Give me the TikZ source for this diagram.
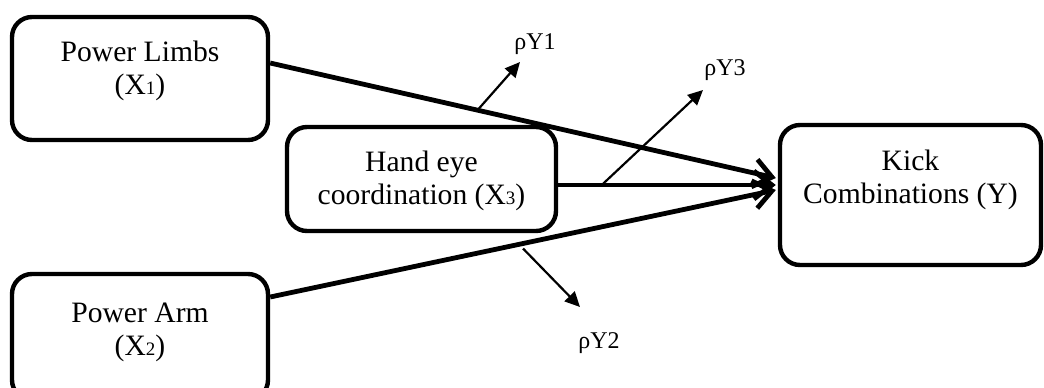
\documentclass[tikz,border=0pt]{standalone}
\usepackage{fontspec}
\setmainfont{Liberation Serif}
\usetikzlibrary{arrows.meta,calc}
\newcommand{\sdig}[1]{{\fontsize{9.5}{10}\selectfont #1}}
\tikzset{
  box/.style={draw, line width=2.2pt, rounded corners=10pt, inner sep=0pt},
  txt/.style={align=center, font=\fontsize{14.8}{16.5}\selectfont, inner sep=0pt},
  lab/.style={font=\fontsize{12}{13}\selectfont, inner sep=0pt},
  mainarrow/.style={line width=2.4pt, -{Straight Barb[length=9pt,width=14pt,line width=2.4pt]}},
  thinarrow/.style={line width=1.1pt, -{Triangle[length=7.5pt,width=7pt]}}
}
\begin{document}
\begin{tikzpicture}[x=0.5pt,y=-0.5pt]
\useasboundingbox (0,0) rectangle (1044,387);
% boxes
\node[box, minimum width=128pt, minimum height=61.5pt] (b1) at (140,78.5) {};
\node[box, minimum width=128pt, minimum height=63pt] (b2) at (140,337) {};
\node[box, minimum width=134.5pt, minimum height=52pt] (b3) at (421.5,179) {};
\node[box, minimum width=130.5pt, minimum height=70pt] (b4) at (910.5,195) {};
% texts
\node[txt] (t1) at (140,71) {Power Limbs\\(X\sdig{1})};
\node[txt] (t2) at (140,332) {Power Arm\\(X\sdig{2})};
\node[txt] (t3) at (421.5,181) {Hand eye\\coordination (X\sdig{3})};
\node[txt] (t4) at (910.5,180) {Kick\\Combinations (Y)};
% main arrows
\draw[mainarrow] ($(b1.east)+(0,-15.5)$) -- coordinate[pos=0.41] (s1) ($(b4.west)+(-2,-17)$);
\draw[mainarrow] ($(b2.east)+(0,-40)$) -- coordinate[pos=0.5] (s2) ($(b4.west)+(-2,-5)$);
\draw[mainarrow] ($(b3.east)+(0,6)$) -- coordinate[pos=0.2] (s3) ($(b4.west)+(-2,-10)$);
% error arrows
\coordinate (e1) at (520,62);
\coordinate (e2) at (580,307);
\coordinate (e3) at (703,90);
\draw[thinarrow] (s1) -- (e1);
\draw[thinarrow] ($(s2)+(0,5)$) -- (e2);
\draw[thinarrow] (s3) -- (e3);
% labels
\node[lab] (l1) at (535,44) {ρY1};
\node[lab] (l2) at (599,343) {ρY2};
\node[lab] (l3) at (725,70) {ρY3};
\end{tikzpicture}
\end{document}
